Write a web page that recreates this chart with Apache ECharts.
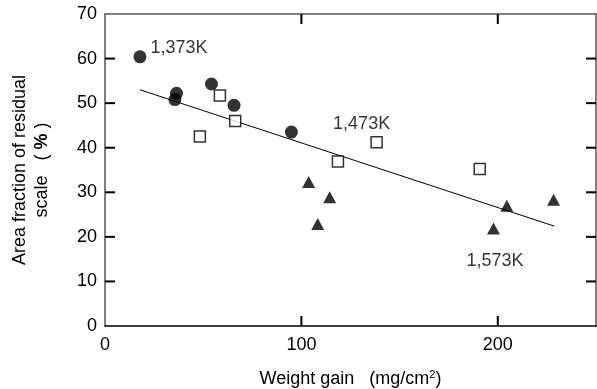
<!DOCTYPE html>
<html>
<head>
<meta charset="utf-8">
<script src="https://cdn.jsdelivr.net/npm/echarts@6/dist/echarts.min.js"></script>
<style>html,body{margin:0;padding:0;background:#fff}#c{width:597px;height:389px}</style>
</head>
<body>
<div id="c"></div>
<script>
// Data
var xTicks = [0, 100, 200];
var yTicks = [0, 10, 20, 30, 40, 50, 60, 70];
var xRange = [0, 250];
var yRange = [0, 70];
var k1373 = [[17.8, 60.4], [35.6, 50.8], [36.4, 52.2], [54.2, 54.3], [65.7, 49.5], [94.9, 43.5]];
var k1473 = [[48.3, 42.5], [58.5, 51.7], [66.3, 46.0], [118.6, 36.9], [138.3, 41.2], [190.8, 35.2]];
var k1573 = [[103.7, 32.3], [108.3, 22.9], [114.4, 28.9], [197.8, 21.9], [204.6, 27.0], [228.4, 28.3]];
var fitLine = [[17.8, 53.0], [228.8, 22.4]];
var seriesNames = ['1,373K', '1,473K', '1,573K'];

var font = 'Liberation Sans, Arial, sans-serif';
var W = 597, H = 389, G = { left: 105, right: 1, top: 14, bottom: 63 };
var TICK_PX = 10;
var tx = TICK_PX * (xRange[1] - xRange[0]) / (W - G.left - G.right);
var ty = TICK_PX * (yRange[1] - yRange[0]) / (H - G.top - G.bottom);

function withLabel(arr, idx, pos, offset) {
  return arr.map(function (p, i) {
    if (i !== idx) return p;
    return {
      value: p,
      label: { show: true, position: pos, offset: offset, distance: 4, formatter: function (pr) { return pr.seriesName; },
        color: '#000', fontSize: 18, fontFamily: font }
    };
  });
}
// inner tick marks drawn as short line segments through the axes' scales
var tickSeries = [];
function seg(a, b) {
  tickSeries.push({ type: 'line', data: [a, b], symbol: 'none', silent: true, z: 6, clip: false,
    lineStyle: { color: '#000', width: 2 } });
}
xTicks.filter(function (v) { return v > xRange[0] && v < xRange[1]; }).forEach(function (v) {
  seg([v, yRange[0]], [v, yRange[0] + ty]);
  seg([v, yRange[1]], [v, yRange[1] - ty]);
});
yTicks.filter(function (v) { return v > yRange[0] && v < yRange[1]; }).forEach(function (v) {
  seg([xRange[0], v], [xRange[0] + tx, v]);
  seg([xRange[1], v], [xRange[1] - tx, v]);
});

var chart = echarts.init(document.getElementById('c'));
chart.setOption({
  animation: false,
  grid: { left: G.left, right: G.right, top: G.top, bottom: G.bottom, outerBoundsMode: 'none' },
  xAxis: [
    {
      type: 'value', min: xRange[0], max: xRange[1], interval: 100, position: 'bottom', splitLine: { show: false },
      axisTick: { show: false },
      axisLine: { show: true, onZero: false, lineStyle: { color: '#000', width: 1.5 } },
      axisLabel: { show: true, showMaxLabel: false, color: '#000', fontSize: 18, fontFamily: font, margin: 10 },
      name: 'Weight gain   (mg/cm{sup|2})', nameLocation: 'middle', nameGap: 43,
      nameTextStyle: { color: '#000', fontSize: 18, fontFamily: font,
        rich: { sup: { fontSize: 11, verticalAlign: 'top', padding: [0, 0, 9, 0], color: '#000', fontFamily: font } } }
    },
    {
      type: 'value', min: xRange[0], max: xRange[1], interval: 100, position: 'top', splitLine: { show: false },
      axisTick: { show: false },
      axisLine: { show: true, onZero: false, lineStyle: { color: '#555', width: 1.5 } },
      axisLabel: { show: false }
    }
  ],
  yAxis: [
    {
      type: 'value', min: yRange[0], max: yRange[1], interval: 10, position: 'left', splitLine: { show: false },
      axisTick: { show: false },
      axisLine: { show: true, onZero: false, lineStyle: { color: '#555', width: 1.5 } },
      axisLabel: { show: true, color: '#000', fontSize: 18, fontFamily: font, margin: 8 },
      name: 'Area fraction of residual\nscale   ( {b|%} )', nameLocation: 'middle', nameGap: 52, nameRotate: 90,
      nameTextStyle: { color: '#000', fontSize: 18, fontFamily: font, lineHeight: 22, align: 'center',
        rich: { b: { fontWeight: 'bold', fontSize: 18, color: '#000', fontFamily: font } } }
    },
    {
      type: 'value', min: yRange[0], max: yRange[1], interval: 10, position: 'right', splitLine: { show: false },
      axisTick: { show: false },
      axisLine: { show: true, onZero: false, lineStyle: { color: '#555', width: 1.5 } },
      axisLabel: { show: false }
    }
  ],
  series: tickSeries.concat([
    { type: 'line', data: fitLine, symbol: 'none', lineStyle: { color: '#000', width: 1 }, z: 1 },
    { name: seriesNames[0], type: 'scatter', symbol: 'circle', symbolSize: 13,
      itemStyle: { color: '#000' }, data: withLabel(k1373, 0, 'right', [0, -8.5]), z: 3 },
    { name: seriesNames[1], type: 'scatter', symbol: 'rect', symbolSize: 11,
      itemStyle: { color: '#fff', borderColor: '#000', borderWidth: 1.5 }, data: withLabel(k1473, 4, 'top', [-15, 1]), z: 3 },
    { name: seriesNames[2], type: 'scatter', symbol: 'triangle', symbolSize: [13, 12],
      itemStyle: { color: '#000' }, data: withLabel(k1573, 3, 'bottom', [1.5, 14]), z: 3 }
  ])
});
</script>
</body>
</html>
